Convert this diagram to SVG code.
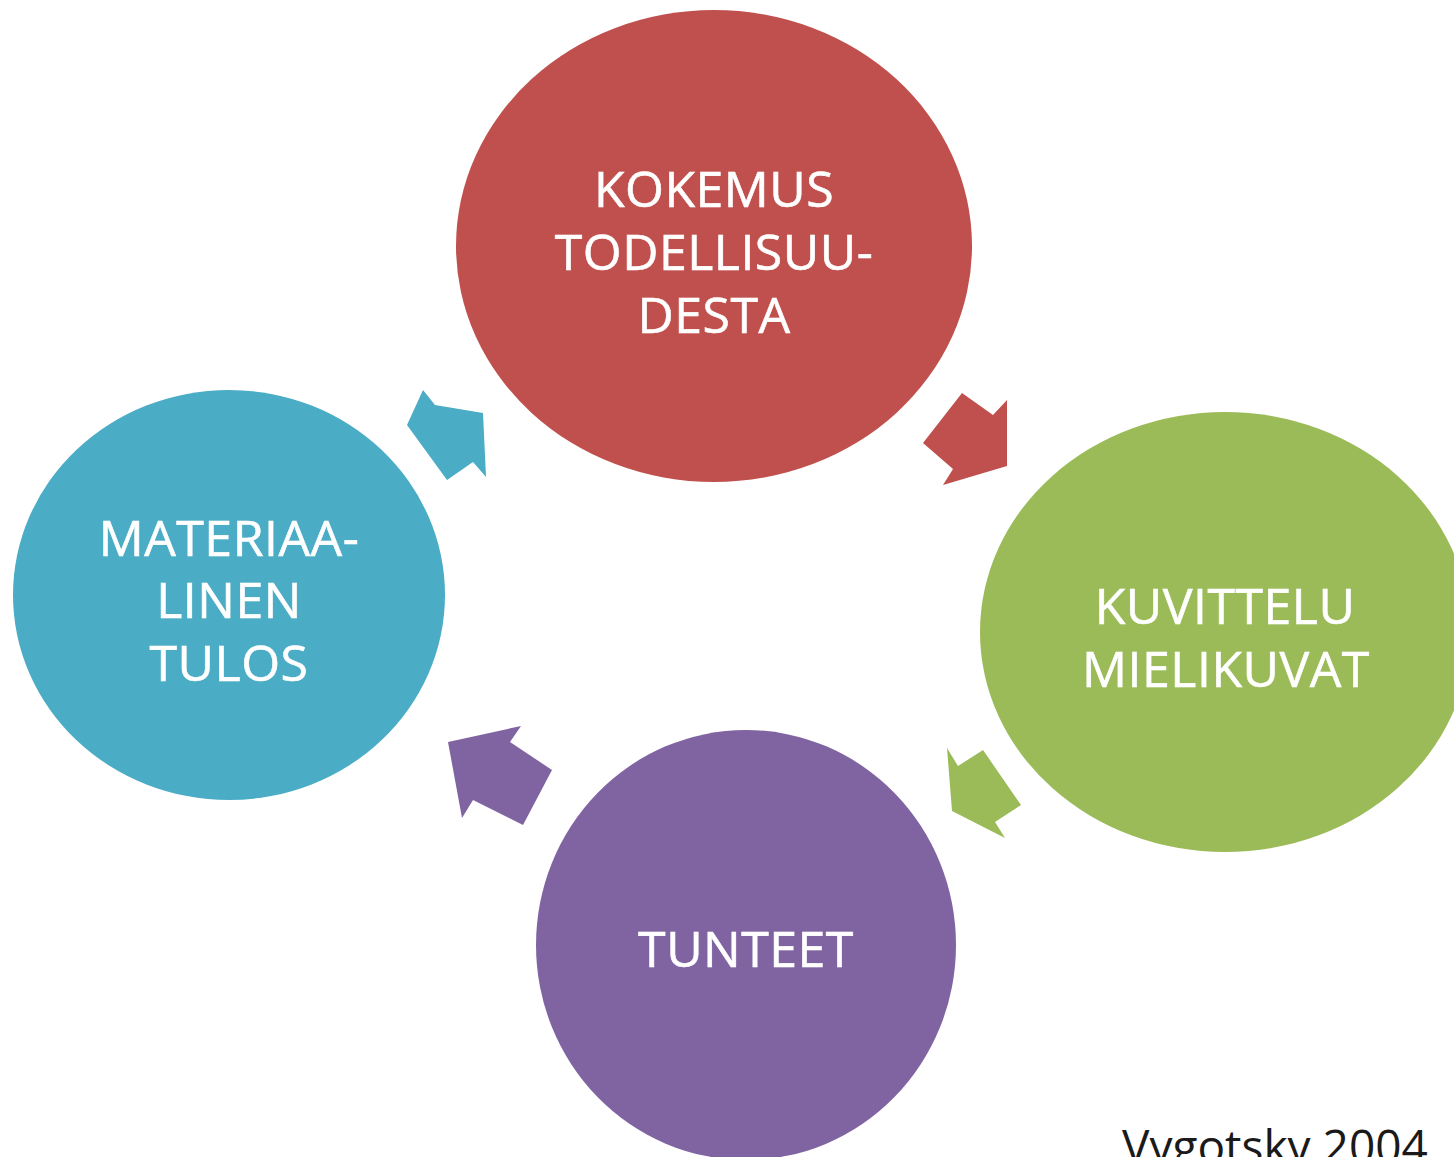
<svg xmlns="http://www.w3.org/2000/svg" width="1454" height="1157" viewBox="0 0 1454 1157">
<style>
.lbl{font-family:"Open Sans","Liberation Sans",sans-serif;font-size:50px;letter-spacing:0.5px;fill:#ffffff;stroke:#ffffff;stroke-width:0.6px;text-anchor:middle}
.cite{font-family:"Open Sans","Liberation Sans",sans-serif;font-size:46px;fill:#1a1a1a}
</style>
<rect width="1454" height="1157" fill="#ffffff"/>
<g id="connectors">
<polygon fill="#C0504D" points="962,393 993,415 1007,400 1007,466 943,485 953,469 923,443"/>
<polygon fill="#9BBB59" points="947,748 958,766 983,750 1021,805 995,822 1005,838 952,811"/>
<polygon fill="#8064A2" points="448,742 521,726 510,742 552,770 523,825 473,800 462,818"/>
<polygon fill="#4BACC6" points="423,390 435,405 483,413 486,477 473,462 447,480 407,425"/>
</g>
<g id="node-kokemus">
<ellipse cx="714" cy="246" rx="258" ry="236" fill="#C0504D"/>
<text class="lbl" x="714" y="207">KOKEMUS</text>
<text class="lbl" x="714" y="270">TODELLISUU-</text>
<text class="lbl" x="714" y="333">DESTA</text>
</g>
<g id="node-kuvittelu">
<ellipse cx="1225" cy="632" rx="245" ry="220" fill="#9BBB59"/>
<text class="lbl" x="1225" y="624">KUVITTELU</text>
<text class="lbl" x="1226" y="687">MIELIKUVAT</text>
</g>
<g id="node-tunteet">
<ellipse cx="746" cy="945" rx="210" ry="215" fill="#8064A2"/>
<text class="lbl" x="746" y="967">TUNTEET</text>
</g>
<g id="node-tulos">
<ellipse cx="229" cy="595" rx="216" ry="205" fill="#4BACC6"/>
<text class="lbl" x="229" y="556">MATERIAA-</text>
<text class="lbl" x="229" y="618">LINEN</text>
<text class="lbl" x="229" y="681">TULOS</text>
</g>
<text class="cite" x="1122" y="1163">Vygotsky 2004</text>
</svg>
